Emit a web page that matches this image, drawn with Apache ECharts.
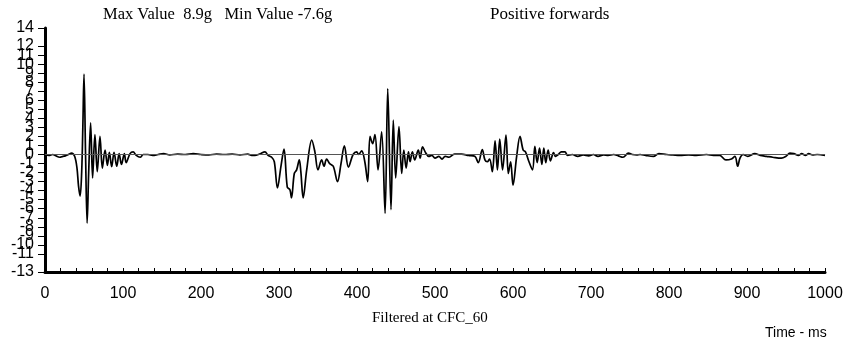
<!DOCTYPE html>
<html><head><meta charset="utf-8">
<script src="https://cdn.jsdelivr.net/npm/echarts@6/dist/echarts.min.js"></script>
<style>html,body{margin:0;padding:0;background:#fff}#c{width:849px;height:343px}</style>
</head><body><div id="c"></div>
<script>
const timeMs = [0,5,10,13,19,23,26,30,34,38,41,43,45,47,48.5,50,52,54,56,58.5,61,64,67,70.5,73.5,77,80,82.5,85.5,88.5,92,95,98,101.7,104,109,113,117,122,126,132,138,145,152,160,170,180,190,200,210,220,230,240,250,260,265,269,275,282,286,290.6,294,298,302.5,306.4,310.6,314,316,319.6,322.6,326,328,331,335.5,342,346,350,354.7,357.7,361,365,369.6,375,379.5,383.8,389,395,399.6,402,406,410,413.7,416.7,420,423,427,431.6,436,439.4,443.6,446.5,449.6,453.8,457.3,460,463,466,468,471,474,478.6,481,484,488,492,496,500,505,509,513,518,525,534,543,551,555.5,560.6,564,567,570,573.5,577,580,583,586.6,591,594,597,600,604.7,609,613,616,620.5,625,628,631,634,637,639.5,642,645,648,652,654.5,658,662,666.6,670,676,683,690,697,703,709,716,722,729,735,741,748,753,758.6,763,770,780,787,797,805,814,825,835,848,857,865,873,880,884.6,888,891,895,901,910,917,925,933,944,950,955,960,966,970,975,979,984,990,1000];
const accelG = [0,-0.1,0,-0.1,-0.3,-0.2,-0.15,0,0.15,-0.2,-1.5,-3.5,-4.6,-2.0,3.0,8.9,0,-7.6,-2.0,3.5,-2.6,2.2,-1.9,2.0,-1.5,0.5,-1.2,0.25,-1.35,0.25,-1.3,0.1,-1.1,0.1,-0.9,0.1,0.3,-0.1,-0.3,0,0,-0.1,0,0.1,-0.05,0.05,0,0.1,0,-0.05,0.05,0,0.05,-0.05,0.05,-0.1,-0.1,0.05,0.3,-0.1,-0.3,-0.8,-3.7,-1.3,0.6,-3.6,-3.9,-4.8,-2.1,-1.7,-0.6,-1.9,-4.8,-1.7,1.6,0.3,-1.7,-0.6,-1.3,-0.5,-1.0,-1.3,-3.0,-1.0,0.95,-1.4,0,0.3,0,0.4,-0.8,-3.0,2.0,1.2,2.2,-1.7,2.5,-6.5,7.3,-6.1,3.8,-2.6,3.1,-2.1,0.5,-1.5,0.3,-0.8,0.3,-0.6,0.5,-0.4,0.85,0.2,-0.2,-0.1,-0.4,-0.2,-0.5,-0.2,-0.3,0.05,0.05,-0.1,-0.2,-0.9,0.55,-0.6,-0.8,-0.5,-1.9,1.5,-1.7,1.7,-1.7,2.15,-2.1,-0.8,-3.4,-0.2,2.0,0.5,0.3,-0.8,-1.7,0.9,-0.9,0.7,-1.1,0.7,-0.9,0.5,-0.7,0.2,-0.2,0,0.3,0.3,-0.1,0,-0.2,-0.05,-0.15,0,-0.2,-0.05,-0.1,0,-0.15,-0.3,0.15,0,-0.05,0,-0.1,-0.2,0.1,0,-0.05,-0.1,-0.05,-0.1,0,-0.1,-0.1,-0.6,-0.5,-0.2,-1.3,-0.4,0,-0.2,0.1,-0.1,-0.2,-0.3,-0.4,-0.2,0.15,0.1,-0.1,0.1,-0.1,0.1,-0.05,0,-0.1];
const xTickLabels = [0,100,200,300,400,500,600,700,800,900,1000];
const yTickLabels = [-13,-12,-11,-10,-9,-8,-7,-6,-5,-4,-3,-2,-1,0,1,2,3,4,5,6,7,8,9,10,11,12,13,14];
const titleLeft = 'Max Value  8.9g   Min Value -7.6g';
const titleRight = 'Positive forwards';
const footText = 'Filtered at CFC_60';
const xName = 'Time - ms';

const serif = '"Liberation Serif","Times New Roman",serif';
const sans = '"Liberation Sans",Arial,sans-serif';
const chart = echarts.init(document.getElementById('c'), null, {renderer:'canvas'});
chart.setOption({
  animation:false,
  backgroundColor:'#fff',
  grid:{left:45,right:24,top:28,bottom:71,containLabel:false},
  graphic:[
    {type:'text',left:103,top:6,style:{text:titleLeft,font:'16.5px '+serif,fill:'#000'}},
    {type:'text',left:490,top:6,style:{text:titleRight,font:'17px '+serif,fill:'#000'}},
    {type:'text',left:372,top:311,style:{text:footText,font:'15px '+serif,fill:'#000'}},
    {type:'text',left:765,top:326,style:{text:xName,font:'14px '+sans,fill:'#000'}}
  ],
  xAxis:{type:'value',min:xTickLabels[0],max:xTickLabels[xTickLabels.length-1],interval:100,
    axisLine:{onZero:false,lineStyle:{color:'#000',width:3}},
    axisTick:{show:true,inside:true,length:4,lineStyle:{color:'#000',width:1}},
    minorTick:{show:true,splitNumber:5,length:4,lineStyle:{color:'#000',width:1}},
    axisLabel:{color:'#000',fontSize:16,fontFamily:sans,margin:14,formatter:v=>String(v)},
    splitLine:{show:false}},
  yAxis:{type:'value',min:yTickLabels[0],max:yTickLabels[yTickLabels.length-1],interval:1,
    axisLine:{show:true,onZero:false,lineStyle:{color:'#000',width:3}},
    axisTick:{show:true,length:7,lineStyle:{color:'#000',width:1}},
    axisLabel:{color:'#000',fontSize:16,fontFamily:sans,margin:11,showMinLabel:true,showMaxLabel:true,hideOverlap:false,formatter:v=>String(v)},
    splitLine:{show:false}},
  series:[{type:'line',data:timeMs.map((t,i)=>[t,accelG[i]]),showSymbol:false,smooth:0.35,
    lineStyle:{color:'#000',width:1.7},
    markLine:{silent:true,symbol:'none',label:{show:false},lineStyle:{color:'#555',width:1,type:'solid'},data:[{yAxis:0}]}}]
});
</script></body></html>
